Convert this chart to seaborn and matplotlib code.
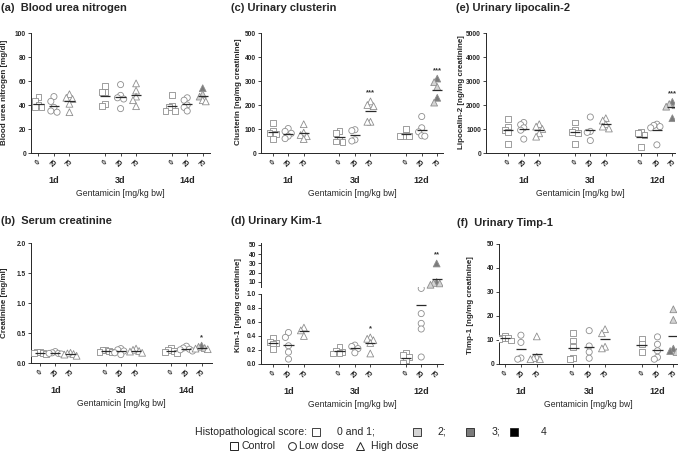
import warnings
import numpy as np
import pandas as pd
import matplotlib
matplotlib.use("Agg")
import matplotlib.pyplot as plt
import seaborn as sns
from matplotlib.lines import Line2D

warnings.filterwarnings("ignore")

sns.set_style("ticks")
plt.rcParams["font.family"] = ["Liberation Sans", "DejaVu Sans"]

doses = ["0", "25", "75"]
dose_markers = {"0": "s", "25": "o", "75": "^"}
dose_sizes = {"0": 4.2, "25": 4.4, "75": 4.9}
score_colors = {"1": "white", "2": "#d4d4d4", "3": "#7b7b7b", "4": "black"}
group_offsets = [0, 4.3, 8.6]

# group order in every list: day1 0/25/75, day2 0/25/75, day3 0/25/75
# (a) blood urea nitrogen [mg/dl]
bun_days = ["1d", "3d", "14d"]
bun = [
    [47, 43, 40, 38, 38], [47, 43, 38, 35, 34], [49, 46, 45, 41, 34],
    [56, 51, 51, 41, 39], [57, 48, 46, 45, 37], [58, 52, 47, 44, 39],
    [48, 39, 38, 35, 35], [46, 44, 40, 38, 35], [54, 49, 47, 44, 43],
]
bun_scores = {8: [3, 2, 2, 1, 1]}
bun_stars = {}

# (b) serum creatinine [mg/ml]
crea_days = ["1d", "3d", "14d"]
crea = [
    [0.19, 0.18, 0.17, 0.16, 0.15], [0.19, 0.17, 0.16, 0.16, 0.15], [0.17, 0.16, 0.15, 0.14, 0.12],
    [0.22, 0.21, 0.20, 0.19, 0.18], [0.24, 0.22, 0.20, 0.17, 0.14], [0.24, 0.22, 0.20, 0.19, 0.17],
    [0.25, 0.22, 0.20, 0.18, 0.17], [0.28, 0.25, 0.23, 0.22, 0.20], [0.29, 0.27, 0.25, 0.24, 0.23],
]
crea_scores = {8: [3, 2, 2, 1, 1]}
crea_stars = {8: "*"}

# (c) urinary clusterin [ng/mg creatinine]
clu_days = ["1d", "3d", "12d"]
clu = [
    [125, 90, 85, 80, 60], [102, 90, 82, 70, 60], [120, 85, 75, 70, 58],
    [93, 82, 55, 48, 46], [97, 93, 55, 50], [215, 200, 195, 130, 130],
    [100, 75, 72, 72, 70], [152, 105, 88, 72, 70], [310, 295, 275, 230, 210],
]
clu_scores = {8: [3, 2, 2, 3, 2]}
clu_stars = {5: "***", 8: "***"}

# (d) urinary Kim-1 [ng/mg creatinine]
kim_days = ["1d", "3d", "12d"]
kim = [
    [0.37, 0.32, 0.30, 0.29, 0.21], [0.45, 0.38, 0.26, 0.17, 0.07], [0.52, 0.48, 0.40],
    [0.24, 0.19, 0.17, 0.16, 0.15], [0.27, 0.25, 0.22, 0.16], [0.38, 0.36, 0.34, 0.30, 0.15],
    [0.16, 0.13, 0.10, 0.05, 0.02], [2.3, 0.72, 0.58, 0.50, 0.10], [30, 10, 9, 8.5, 7],
]
kim_scores = {8: [3, 3, 2, 2, 2]}
kim_stars = {5: "*", 8: "**"}

# (e) urinary lipocalin-2 [ng/mg creatinine]
lcn_days = ["1d", "3d", "12d"]
lcn = [
    [1400, 1100, 950, 880, 380], [1270, 1180, 1050, 950, 580], [1200, 1100, 1000, 820, 680],
    [1270, 950, 880, 830, 380], [1500, 900, 860, 520], [1450, 1350, 1200, 1100, 1020],
    [880, 820, 740, 240], [1200, 1150, 1100, 1050, 340], [2130, 2040, 1990, 1930, 1450],
]
lcn_scores = {8: [3, 2, 2, 2, 3]}
lcn_stars = {8: "***"}

# (f) urinary Timp-1 [ng/mg creatinine]
timp_days = ["1d", "3d", "12d"]
timp = [
    [11.8, 11.0, 10.8, 10.5, 9.8], [12.0, 9.0, 2.5, 2.0], [11.5, 3.0, 2.5, 2.0, 2.0],
    [12.8, 9.8, 7.0, 2.5, 2.0], [13.9, 7.5, 5.0, 2.4], [14.5, 12.8, 7.2, 6.5],
    [10.3, 8.2, 4.9], [11.3, 8.2, 5.5, 2.8, 2.0], [22.8, 18.4, 6.4, 5.4, 5.0],
]
timp_scores = {8: [2, 2, 3, 3, 2]}
timp_stars = {}

W, H = 682, 454
positions = [g + d for g in group_offsets for d in range(3)]


def spread_offsets(vals, px_per_unit, step=0.2, min_dy=5.0):
    # graphpad-like scatter: points that would overlap get pushed sideways
    vals = np.asarray(vals, float)
    offs = np.zeros(len(vals))
    placed = []
    for i in np.argsort(-vals, kind="stable"):
        y = vals[i] * px_per_unit
        dx = 0.0
        for k in [0, -1, 1, -2, 2, -3, 3]:
            dx = k * step
            if all(abs(y - py) >= min_dy or abs(dx - px) >= step * 0.99 for px, py in placed):
                break
        offs[i] = dx
        placed.append((dx, y))
    return offs


def make_frame(values, scores, px_per_unit, clip=None):
    rows = []
    for i, vals in enumerate(values):
        sc = scores.get(i, [1] * len(vals))
        shown = np.asarray(vals, float)
        if clip is not None:
            shown = np.clip(shown, None, clip)
        offs = spread_offsets(shown, px_per_unit)
        for v, s, o in zip(shown, sc, offs):
            rows.append({"x": positions[i] + o, "value": v,
                         "dose": doses[i % 3], "score": str(s)})
    return pd.DataFrame(rows)


def add_axes(fig, left, top, right, bottom):
    return fig.add_axes([left / W, 1 - bottom / H, (right - left) / W, (bottom - top) / H])


def draw_points(ax, df):
    for dose in doses:
        sub = df[df["dose"] == dose]
        if sub.empty:
            continue
        sns.scatterplot(data=sub, x="x", y="value", hue="score", palette=score_colors,
                        marker=dose_markers[dose], s=dose_sizes[dose] ** 2,
                        edgecolor="#8e8e8e", linewidth=0.6, legend=False, ax=ax, zorder=3)
    ax.set_xlabel("")
    ax.set_ylabel("")


def draw_means(ax, values, keep=lambda m: True):
    for i, vals in enumerate(values):
        m = np.mean(vals)
        if keep(m):
            ax.hlines(m, positions[i] - 0.33, positions[i] + 0.33, color="#2a2a2a", lw=0.9, zorder=5)


def draw_stars(ax, values, stars):
    for i, s in stars.items():
        ax.annotate(s, xy=(positions[i], max(values[i])), xytext=(0, 6),
                    textcoords="offset points", ha="center", va="center",
                    fontsize=5.5, fontweight="bold", color="#333333")


def style_y(ax, ylim, yticks, fmt):
    ax.set_ylim(ylim)
    ax.set_yticks(yticks)
    ax.set_yticklabels([fmt.format(t) for t in yticks], fontsize=4.8, fontweight="bold")
    ax.tick_params(axis="y", length=2, width=0.6, pad=1.5)
    ax.spines["left"].set_linewidth(0.7)


def style_x(ax, xlim, days):
    ax.set_xlim(xlim)
    ax.set_xticks(positions)
    ax.set_xticklabels(doses * 3, rotation=45, ha="center", fontsize=4.8, fontweight="bold")
    ax.tick_params(axis="x", length=2, width=0.6, pad=2)
    ax.spines["bottom"].set_linewidth(0.7)
    sns.despine(ax=ax)
    for i, d in enumerate(days):
        ax.annotate(d, xy=(group_offsets[i] + 1, 0), xycoords=("data", "axes fraction"),
                    xytext=(0, -19.5), textcoords="offset points", ha="center", va="center",
                    fontsize=6.5, fontweight="bold")
    ax.annotate("Gentamicin [mg/kg bw]", xy=(0.5, 0), xycoords="axes fraction",
                xytext=(0, -29), textcoords="offset points", ha="center", va="center",
                fontsize=6.2)


def panel(fig, box, xlim, values, scores, stars, days, ylim, yticks, fmt):
    ax = add_axes(fig, *box)
    ppu = (box[3] - box[1]) / (ylim[1] - ylim[0])
    df = make_frame(values, scores, ppu)
    style_y(ax, ylim, yticks, fmt)
    style_x(ax, xlim, days)
    draw_points(ax, df)
    draw_means(ax, values)
    draw_stars(ax, values, stars)
    ax.set_xlim(xlim)
    ax.set_ylim(ylim)
    return ax


def px_text(fig, x, y, s, **kw):
    fig.text(x / W, 1 - y / H, s, **kw)


fig = plt.figure(figsize=(W / 100, H / 100), dpi=100)

title_kw = dict(fontsize=8, fontweight="bold", ha="left", va="center")
ylab_kw = dict(fontsize=5.8, fontweight="bold", rotation=90, ha="center", va="center")

# top row
panel(fig, (31, 33, 210, 153), (-0.48, 11.07), bun, bun_scores, bun_stars, bun_days,
      (0, 100), [0, 20, 40, 60, 80, 100], "{:.0f}")
px_text(fig, 1, 8, "(a)  Blood urea nitrogen", **title_kw)
px_text(fig, 5, 92, "Blood urea nitrogen [mg/dl]", **ylab_kw)

panel(fig, (261, 33, 443, 153), (-0.75, 10.97), clu, clu_scores, clu_stars, clu_days,
      (0, 500), [0, 100, 200, 300, 400, 500], "{:.0f}")
px_text(fig, 231, 8, "(c) Urinary clusterin", **title_kw)
px_text(fig, 238, 92, "Clusterin [ng/mg creatinine]", **ylab_kw)

panel(fig, (486, 33, 675, 153), (-1.44, 10.77), lcn, lcn_scores, lcn_stars, lcn_days,
      (0, 5000), [0, 1000, 2000, 3000, 4000, 5000], "{:.0f}")
px_text(fig, 456, 8, "(e) Urinary lipocalin-2", **title_kw)
px_text(fig, 462, 92, "Lipocalin-2 [ng/mg creatinine]", **ylab_kw)

# bottom row
panel(fig, (31, 243, 212, 363), (-0.59, 11.28), crea, crea_scores, crea_stars, crea_days,
      (0, 2.0), [0, 0.5, 1.0, 1.5, 2.0], "{:.1f}")
px_text(fig, 1, 221, "(b)  Serum creatinine", **title_kw)
px_text(fig, 5, 303, "Creatinine [mg/ml]", **ylab_kw)

panel(fig, (499, 244, 677, 364), (-0.38, 10.83), timp, timp_scores, timp_stars, timp_days,
      (0, 50), [0, 10, 20, 30, 40, 50], "{:.0f}")
px_text(fig, 457, 223, "(f)  Urinary Timp-1", **title_kw)
px_text(fig, 470, 305, "Timp-1 [ng/mg creatinine]", **ylab_kw)

# (d) Kim-1 with a broken y axis: 0-1 below, 10-50 above
kim_xlim = (-0.78, 11.01)
low_cut, high_cut = 1.08, 5
lo_ylim, hi_ylim = (0, 1.1), (2.43, 52.16)

ax_lo = add_axes(fig, 261, 287, 443, 364)
lo_vals = [[v for v in g if v < high_cut] for g in kim]
lo_df = make_frame(lo_vals, {}, 77 / 1.1, clip=low_cut)
style_y(ax_lo, lo_ylim, [0, 0.2, 0.4, 0.6, 0.8, 1.0], "{:.1f}")
style_x(ax_lo, kim_xlim, kim_days)
ax_lo.spines["left"].set_bounds(0, 1.0)
draw_points(ax_lo, lo_df)
draw_means(ax_lo, kim, keep=lambda m: m < high_cut)
draw_stars(ax_lo, kim, {k: v for k, v in kim_stars.items() if max(kim[k]) < high_cut})
ax_lo.set_xlim(kim_xlim)
ax_lo.set_ylim(lo_ylim)

ax_hi = add_axes(fig, 261, 243, 443, 289)
ax_hi.patch.set_alpha(0)
hi_vals = [[v for v in g if v >= high_cut] for g in kim]
hi_df = make_frame(hi_vals, kim_scores, 46 / (hi_ylim[1] - hi_ylim[0]))
style_y(ax_hi, hi_ylim, [10, 20, 30, 40, 50], "{:.0f}")
draw_points(ax_hi, hi_df)
draw_means(ax_hi, kim, keep=lambda m: m >= high_cut)
draw_stars(ax_hi, kim, {k: v for k, v in kim_stars.items() if max(kim[k]) >= high_cut})
sns.despine(ax=ax_hi, bottom=True)
ax_hi.spines["left"].set_bounds(4.5, hi_ylim[1])
ax_hi.set_xticks([])
ax_hi.set_xlim(kim_xlim)
ax_hi.set_ylim(hi_ylim)
px_text(fig, 231, 221, "(d) Urinary Kim-1", **title_kw)
px_text(fig, 238, 305, "Kim-1 [ng/mg creatinine]", **ylab_kw)

# legend
leg_kw = dict(fontsize=7.6, ha="left", va="center")
px_text(fig, 195, 432, "Histopathological score:", **leg_kw)
score_items = [("1", 316, 337, "0 and 1;"), ("2", 417, 438, "2;"),
               ("3", 470, 492, "3;"), ("4", 514, 541, "4")]
for key, xm, xt, lab in score_items:
    fig.add_artist(Line2D([xm / W], [1 - 432 / H], transform=fig.transFigure, marker="s",
                          ms=5.3, mfc=score_colors[key], mec="#222222", mew=0.6, ls=""))
    px_text(fig, xt, 432, lab, **leg_kw)

dose_items = [("0", 234, 242, "Control", 5.6), ("25", 292, 299, "Low dose", 5.6),
              ("75", 360, 371, "High dose", 6.4)]
for dose, xm, xt, lab, ms in dose_items:
    fig.add_artist(Line2D([xm / W], [1 - 446 / H], transform=fig.transFigure,
                          marker=dose_markers[dose], ms=ms,
                          mfc="white", mec="#222222", mew=0.7, ls=""))
    px_text(fig, xt, 446, lab, **leg_kw)

fig.savefig("out.png", dpi=100)
